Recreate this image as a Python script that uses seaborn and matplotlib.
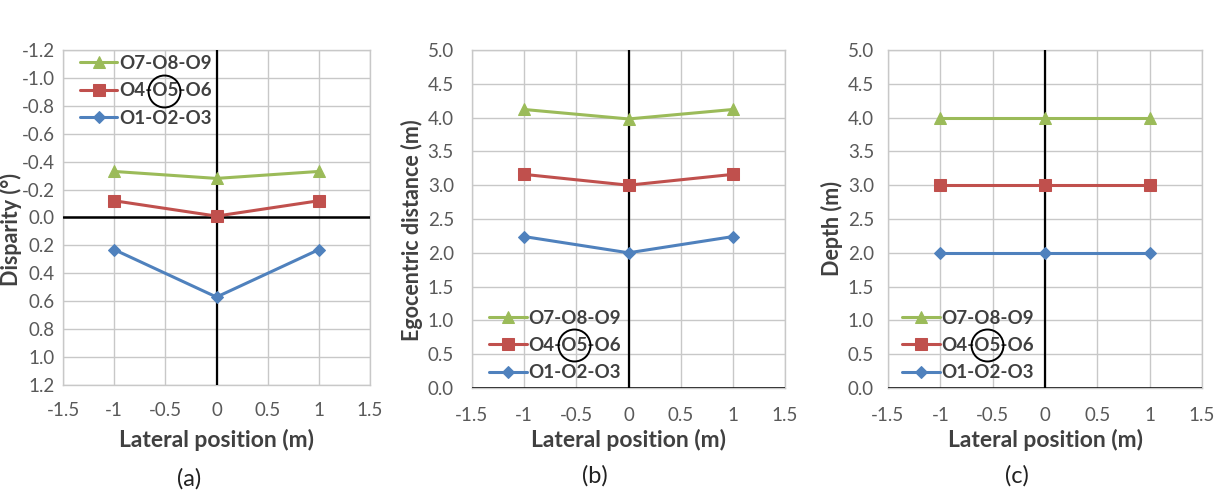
import numpy as np
import pandas as pd
import matplotlib
matplotlib.use("Agg")
import matplotlib.pyplot as plt
import seaborn as sns
from matplotlib.textpath import TextPath
from matplotlib.transforms import IdentityTransform
from matplotlib.lines import Line2D

# ---- data ----
lateral = [-1, 0, 1]
series_names = ["O7-O8-O9", "O4-O5-O6", "O1-O2-O3"]
disparity_789 = [-0.33, -0.28, -0.33]
disparity_456 = [-0.12, -0.01, -0.12]
disparity_123 = [0.23, 0.57, 0.23]
egodist_789 = [4.12, 3.98, 4.12]
egodist_456 = [3.16, 3.00, 3.16]
egodist_123 = [2.24, 2.00, 2.24]
depth_789 = [4.0, 4.0, 4.0]
depth_456 = [3.0, 3.0, 3.0]
depth_123 = [2.0, 2.0, 2.0]
x_ticks = [-1.5, -1, -0.5, 0, 0.5, 1, 1.5]
x_tick_labels = ["-1.5", "-1", "-0.5", "0", "0.5", "1", "1.5"]
disp_ticks = [-1.2, -1.0, -0.8, -0.6, -0.4, -0.2, 0.0, 0.2, 0.4, 0.6, 0.8, 1.0, 1.2]
dist_ticks = [0.0, 0.5, 1.0, 1.5, 2.0, 2.5, 3.0, 3.5, 4.0, 4.5, 5.0]
panel_labels = ["(a)", "(b)", "(c)"]
y_labels = ["Disparity (°)", "Egocentric distance (m)", "Depth (m)"]
x_label = "Lateral position (m)"

colors = ["#9BBB59", "#C0504D", "#4F81BD"]
markers = ["^", "s", "D"]
msizes = [9, 9, 6.5]

sns.set_theme(style="white")
plt.rcParams["font.family"] = ["Lato", "DejaVu Sans"]
plt.rcParams["axes.unicode_minus"] = False

fig = plt.figure(figsize=(12.18, 4.9), dpi=100)
W, H = 1218, 490
def rect(l, r, t, b):
    return [l / W, 1 - b / H, (r - l) / W, (b - t) / H]

axes = [fig.add_axes(rect(63, 370, 50, 385)),
        fig.add_axes(rect(472, 785, 50, 388)),
        fig.add_axes(rect(888, 1202, 50, 388))]

data_sets = [
    [disparity_789, disparity_456, disparity_123],
    [egodist_789, egodist_456, egodist_123],
    [depth_789, depth_456, depth_123],
]
tick_color = "#595959"
label_color = "#404040"
grid_color = "#C8C8C8"

leg_anchor = [(0.055, 0.985, "upper left"), (0.055, 0.02, "lower left"), (0.045, 0.02, "lower left")]
ylab_coords = [(-0.133, 0.463), (-0.155, 0.467), (-0.144, 0.473)]
xlab_y = [-0.132, -0.122, -0.122]
ytick_pad = [6, 13, 10]
xtick_pad = [12, 14, 14]
panel_pos = [(0.41, -0.28), (0.393, -0.26), (0.41, -0.26)]

legends = []
for i, ax in enumerate(axes):
    for j, vals in enumerate(data_sets[i]):
        df = pd.DataFrame({"x": lateral, "y": vals})
        sns.lineplot(data=df, x="x", y="y", ax=ax, color=colors[j], marker=markers[j],
                     markersize=msizes[j], markeredgecolor=colors[j], linewidth=2.2,
                     label=series_names[j], zorder=5, clip_on=False)
    ax.set_xlim(-1.5, 1.5)
    ax.set_xticks(x_ticks)
    ax.set_xticklabels(x_tick_labels)
    if i == 0:
        ax.set_ylim(1.2, -1.2)
        ax.set_yticks(disp_ticks)
        ax.set_yticklabels([f"{v:.1f}" for v in disp_ticks])
    else:
        ax.set_ylim(0, 5.0)
        ax.set_yticks(dist_ticks)
        ax.set_yticklabels([f"{v:.1f}" for v in dist_ticks])
    ax.grid(True, color=grid_color, linewidth=1.0)
    ax.set_axisbelow(True)
    for s in ax.spines.values():
        s.set_color(grid_color)
        s.set_linewidth(1.0)
    ax.axvline(0, color="black", linewidth=1.6, zorder=3)
    ax.axhline(0, color="black", linewidth=1.8, zorder=3)
    ax.tick_params(axis="x", length=0, labelsize=13.5, labelcolor=tick_color, pad=xtick_pad[i])
    ax.tick_params(axis="y", length=0, labelsize=13.5, labelcolor=tick_color, pad=ytick_pad[i])
    ax.set_xlabel(x_label, fontsize=16.5, fontweight="bold", color=label_color)
    ax.xaxis.set_label_coords(0.5, xlab_y[i])
    ax.set_ylabel(y_labels[i], fontsize=15.5, fontweight="bold", color=label_color)
    ax.yaxis.set_label_coords(*ylab_coords[i])
    ax.text(panel_pos[i][0], panel_pos[i][1], panel_labels[i], transform=ax.transAxes,
            ha="center", va="center", fontsize=17, color="#222222")
    ax_, ay_, loc = leg_anchor[i]
    leg = ax.legend(loc=loc, bbox_to_anchor=(ax_, ay_), frameon=False,
                    fontsize=13.5, handlelength=2.0, handletextpad=0.1, labelspacing=0.55,
                    borderaxespad=0.0, borderpad=0.0)
    for t in leg.get_texts():
        t.set_fontweight("bold")
        t.set_color(label_color)
    legends.append(leg)

fig.canvas.draw()
renderer = fig.canvas.get_renderer()
for leg in legends:
    t = leg.get_texts()[1]
    bb = t.get_window_extent(renderer)
    fp = t.get_fontproperties()
    full = TextPath((0, 0), "O4-O5-O6", prop=fp).get_extents().width
    w1 = TextPath((0, 0), "O4-", prop=fp).get_extents().width
    w2 = TextPath((0, 0), "O4-O5", prop=fp).get_extents().width
    frac = (w1 + w2) / 2 / full
    cx = bb.x0 + frac * bb.width
    cy = (bb.y0 + bb.y1) / 2
    fig.add_artist(Line2D([cx], [cy], marker="o", markersize=23, markerfacecolor="none",
                          markeredgecolor="black", markeredgewidth=1.4,
                          transform=IdentityTransform(), zorder=10))

fig.savefig("out.png", dpi=100)
